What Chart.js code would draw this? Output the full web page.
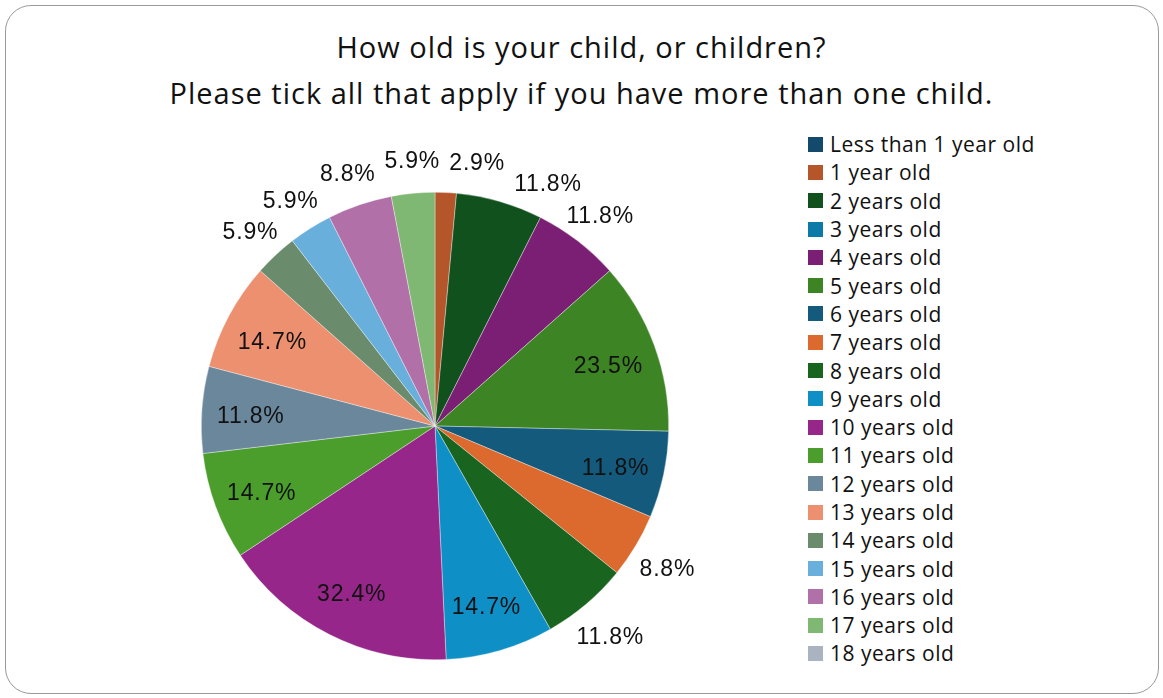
<!DOCTYPE html>
<html>
<head>
<meta charset="utf-8">
<script src="https://cdn.jsdelivr.net/npm/chart.js@4.4.1/dist/chart.umd.min.js"></script>
<style>
  html, body { margin: 0; padding: 0; background: #fff; overflow: hidden; }
  body { width: 1163px; height: 698px; position: relative; font-family: 'Open Sans', sans-serif; }
  .card {
    position: absolute; left: 5px; top: 5px; width: 1154px; height: 689px;
    border: 1.5px solid #9a9a9a; border-radius: 26px; box-sizing: border-box;
  }
  .title {
    position: absolute; left: 0; width: 1163px; text-align: center;
    color: #111; font-size: 29px; letter-spacing: 1px;
  }
  #chartWrap { position: absolute; left: 135px; top: 126px; width: 600px; height: 600px; }
  #legend { position: absolute; left: 808px; top: 130px; margin: 0; padding: 0; list-style: none; }
  #legend li { height: 28.3px; display: flex; align-items: center; font-size: 21px; letter-spacing: 0.5px; color: #111; white-space: nowrap; }
  #legend span.box { width: 15px; height: 15px; margin-right: 7px; display: inline-block; }
</style>
</head>
<body>
<div class="card"></div>
<div class="title" style="top:27px">How old is your child, or children?</div>
<div class="title" style="top:73px">Please tick all that apply if you have more than one child.</div>
<div id="chartWrap"><canvas id="pie" width="600" height="600"></canvas></div>
<ul id="legend"></ul>

<script>
// data (percent of respondents, so the total is > 100)
const ageGroups = ['Less than 1 year old', '1 year old', '2 years old', '3 years old', '4 years old',
  '5 years old', '6 years old', '7 years old', '8 years old', '9 years old', '10 years old',
  '11 years old', '12 years old', '13 years old', '14 years old', '15 years old',
  '16 years old', '17 years old', '18 years old'];
const sharePct = [0, 2.9, 11.8, 0, 11.8, 23.5, 11.8, 8.8, 11.8, 14.7, 32.4, 14.7, 11.8, 14.7, 5.9, 5.9, 8.8, 5.9, 0];

const sliceColors = ['#134a6b', '#b5562a', '#11511e', '#0b7aa8', '#7b1f74', '#3d8424', '#135a7d',
  '#dc692e', '#19651f', '#0e90c6', '#962689', '#4b9e2c', '#6a879c', '#ed9070', '#6a8b6c',
  '#68afdc', '#b170a7', '#7fb872', '#aab4c0'];
// label placement, Excel "best fit" style: in = inside the slice, out = outside end
const labelPlace = ['out', 'out', 'out', 'out', 'out', 'in', 'in', 'out', 'out', 'in', 'in',
  'in', 'in', 'in', 'out', 'out', 'out', 'out', 'out'];

// legend
const legendEl = document.getElementById('legend');
ageGroups.forEach((name, i) => {
  const li = document.createElement('li');
  li.innerHTML = `<span class="box" style="background:${sliceColors[i]}"></span>${name}`;
  legendEl.appendChild(li);
});

// percentage labels drawn from each arc's own geometry
const pctLabels = {
  id: 'pctLabels',
  afterDatasetsDraw(chart) {
    const ctx = chart.ctx;
    const meta = chart.getDatasetMeta(0);
    ctx.save();
    ctx.font = '23px "Liberation Sans", Arial, sans-serif';
    ctx.letterSpacing = '0.8px';
    ctx.fillStyle = '#111';
    ctx.textAlign = 'center';
    ctx.textBaseline = 'middle';
    const h = 22;
    const outs = [];
    meta.data.forEach((arc, i) => {
      const v = sharePct[i];
      if (!v) return;
      const text = v.toFixed(1) + '%';
      const mid = (arc.startAngle + arc.endAngle) / 2;
      if (labelPlace[i] === 'in') {
        const d = arc.outerRadius * 0.79;
        ctx.fillText(text, arc.x + Math.cos(mid) * d, arc.y + Math.sin(mid) * d + 4);
      } else {
        // angle measured clockwise from 12 o'clock, ordered starting at 6 o'clock
        let a = mid + Math.PI / 2;
        let key = (a - Math.PI + 4 * Math.PI) % (2 * Math.PI);
        outs.push({ text, a, key, arc, w: ctx.measureText(text).width });
      }
    });
    outs.sort((p, q) => p.key - q.key);
    const placed = [];
    outs.forEach(o => {
      const d = o.arc.outerRadius + 37;
      let a = o.a, x, y, tries = 0;
      do {
        x = o.arc.x + Math.sin(a) * d;
        y = o.arc.y - Math.cos(a) * d;
        const hit = placed.some(p => Math.abs(p.x - x) < (p.w + o.w) / 2 + 7 && Math.abs(p.y - y) < h);
        if (!hit) break;
        a += 0.01;
      } while (++tries < 200);
      placed.push({ x, y, w: o.w });
      ctx.fillText(o.text, x, y + 5);
    });
    ctx.restore();
  }
};

new Chart(document.getElementById('pie'), {
  type: 'pie',
  data: {
    labels: ageGroups,
    datasets: [{
      data: sharePct,
      backgroundColor: sliceColors,
      borderColor: 'rgba(255,255,255,0.6)',
      borderWidth: 0.6,
    }]
  },
  options: {
    responsive: false,
    animation: false,
    layout: { padding: 66 },
    plugins: {
      legend: { display: false },
      tooltip: { enabled: false },
    }
  },
  plugins: [pctLabels]
});
</script>
</body>
</html>
